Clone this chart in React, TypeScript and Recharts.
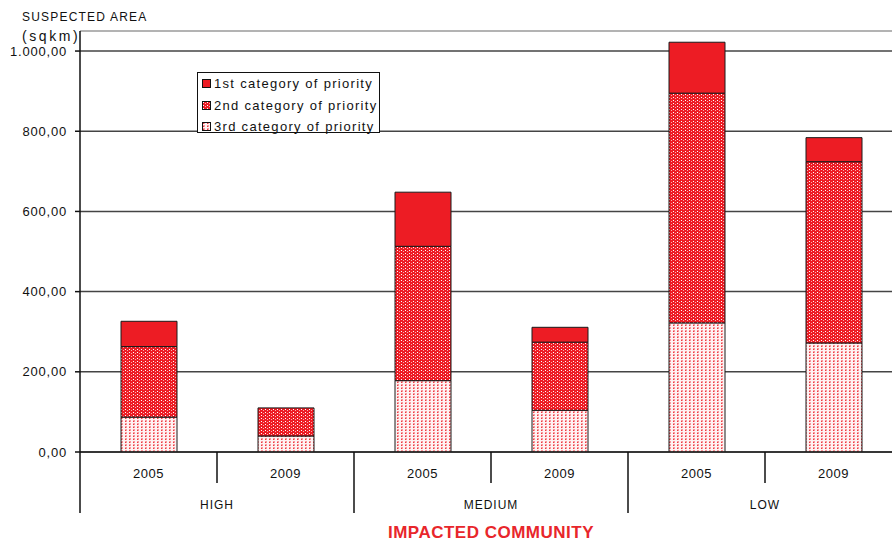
import React from "react";
import {
  BarChart,
  Bar,
  XAxis,
  YAxis,
  CartesianGrid,
  Legend,
  ReferenceLine,
} from "recharts";

// Suspected area (sqkm) by impacted community and year, split by priority
const years = ["2005", "2009", "2005", "2009", "2005", "2009"];
const communities = ["HIGH", "HIGH", "MEDIUM", "MEDIUM", "LOW", "LOW"];
const thirdPriority = [87, 40, 178, 104, 322, 272];
const secondPriority = [176, 70, 335, 170, 573, 452];
const firstPriority = [63, 0, 135, 37, 127, 60];
const yTicks = [0, 200, 400, 600, 800, 1000];
const Y_MAX = 1050;

const seriesInfo = [
  { key: "first", name: "1st category of priority", fill: "#ED1C24" },
  { key: "second", name: "2nd category of priority", fill: "url(#pat2)" },
  { key: "third", name: "3rd category of priority", fill: "url(#pat3)" },
];

const data = years.map((y, i) => ({
  year: y,
  community: communities[i],
  third: thirdPriority[i],
  second: secondPriority[i],
  first: firstPriority[i],
}));

const W = 910;
const H = 543;
const MARGIN = { top: 31, right: 8, bottom: 0, left: 0 };
const Y_W = 80;
const BAND = (W - MARGIN.left - MARGIN.right - Y_W) / years.length;
const FONT = "'Liberation Sans', Arial, sans-serif";
const RED = "#ED1C24";

const fmt = (v: number) => {
  const whole = Math.floor(v)
    .toString()
    .replace(/\B(?=(\d{3})+(?!\d))/g, ".");
  return whole + ",00";
};

function Patterns() {
  return (
    <defs>
      <pattern id="pat2" width="4" height="3" patternUnits="userSpaceOnUse">
        <rect width="4" height="3" fill={RED} />
        <rect x="1" y="1" width="1" height="1" fill="#ffffff" />
        <rect x="3" y="2" width="1" height="1" fill="#f9a9ac" />
      </pattern>
      <pattern id="pat3" width="4" height="3" patternUnits="userSpaceOnUse">
        <rect width="4" height="3" fill="#fff2f2" />
        <rect x="1" y="0" width="2" height="2" fill="#f7989c" />
        <rect x="1" y="1" width="1" height="1" fill="#ee3a40" />
      </pattern>
    </defs>
  );
}

function YearTick(props: any) {
  const { x, y, index, payload } = props;
  const first = index % 2 === 0;
  const sepX = x - BAND / 2;
  return (
    <g>
      <line x1={sepX} x2={sepX} y1={y} y2={y + (first ? 61 : 31)} stroke="#111" strokeWidth={1.5} />
      <text x={x} y={y + 26} textAnchor="middle" fontSize={13} fill="#111" style={{ letterSpacing: 0.5 }}>
        {payload.value}
      </text>
      {first && (
        <text x={x + BAND / 2} y={y + 57} textAnchor="middle" fontSize={12} fill="#111" style={{ letterSpacing: 1 }}>
          {communities[index]}
        </text>
      )}
    </g>
  );
}

function LegendBox() {
  return (
    <div
      style={{
        width: 183,
        height: 61,
        border: "1px solid #111",
        background: "#fff",
        fontFamily: FONT,
        fontSize: 13,
        color: "#111",
        letterSpacing: 1.3,
        boxSizing: "border-box",
        paddingTop: 0,
      }}
    >
      {seriesInfo.map((s) => (
        <div key={s.key} style={{ display: "flex", alignItems: "center", height: 21.5, paddingLeft: 4 }}>
          <svg width={9} height={9} style={{ marginRight: 3 }}>
            <rect x={0.5} y={0.5} width={8} height={8} fill={s.fill} stroke="#111" strokeWidth={1} />
          </svg>
          <span>{s.name}</span>
        </div>
      ))}
    </div>
  );
}

export default function App() {
  return (
    <div style={{ position: "fixed", left: 0, top: 0, width: 892, height: 543, overflow: "hidden", background: "#fff" }}>
      <div style={{ position: "relative", width: W, height: H, fontFamily: FONT }}>
        <div style={{ position: "absolute", left: 22, top: 10, fontSize: 12, letterSpacing: 1.2, color: "#111" }}>
          SUSPECTED AREA
        </div>
        <div style={{ position: "absolute", left: 22, top: 28, fontSize: 14, letterSpacing: 2.6, color: "#111" }}>
          (sqkm)
        </div>
        <BarChart width={W} height={H} data={data} margin={MARGIN} barSize={56} style={{ fontFamily: FONT }}>
          <Patterns />
          <CartesianGrid vertical={false} stroke="#444" strokeWidth={1.5} />
          <ReferenceLine y={Y_MAX} stroke="#c8c8c8" strokeWidth={1.5} />
          <XAxis
            dataKey="year"
            interval={0}
            tickLine={false}
            tickSize={0}
            tickMargin={0}
            height={H - 452}
            axisLine={{ stroke: "#222", strokeWidth: 1.5 }}
            tick={<YearTick />}
            label={{
              value: "IMPACTED COMMUNITY",
              position: "insideBottom",
              offset: 5,
              fill: "#E8262B",
              fontSize: 17,
              fontWeight: "bold",
              style: { letterSpacing: 0.5 },
            }}
          />
          <YAxis
            width={Y_W}
            domain={[0, Y_MAX]}
            ticks={yTicks}
            tickFormatter={fmt}
            tickSize={5}
            tickMargin={8}
            tick={{ fill: "#111", fontSize: 13, style: { letterSpacing: 0.8 } }}
            tickLine={{ stroke: "#111", strokeWidth: 1.5 }}
            axisLine={{ stroke: "#111", strokeWidth: 1.5 }}
            allowDataOverflow
          />
          <Legend
            layout="vertical"
            align="center"
            verticalAlign="middle"
            content={<LegendBox />}
            wrapperStyle={{ position: "absolute", left: 197, top: 72, width: 183, height: 61 }}
          />
          <Bar dataKey="third" stackId="a" fill="url(#pat3)" stroke="#1a1a1a" strokeWidth={1} isAnimationActive={false} />
          <Bar dataKey="second" stackId="a" fill="url(#pat2)" stroke="#1a1a1a" strokeWidth={1} isAnimationActive={false} />
          <Bar dataKey="first" stackId="a" fill={RED} stroke="#1a1a1a" strokeWidth={1} isAnimationActive={false} />
        </BarChart>
      </div>
    </div>
  );
}
